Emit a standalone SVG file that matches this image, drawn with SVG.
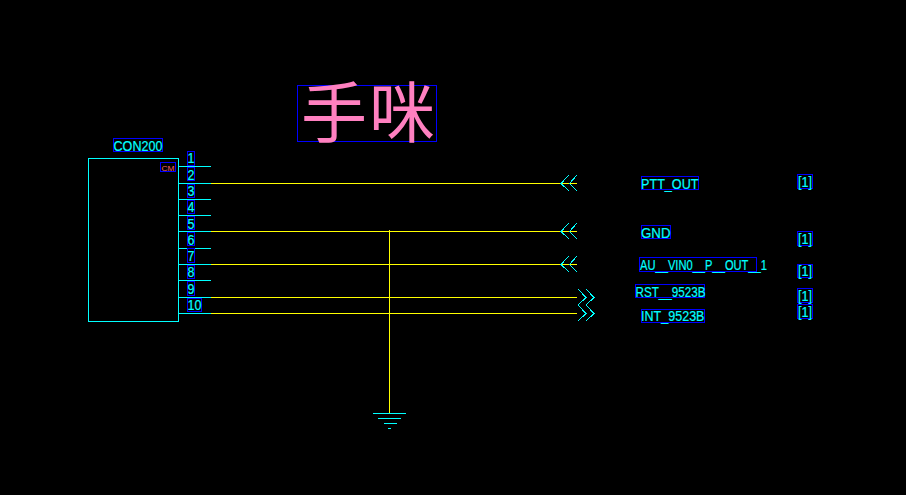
<svg xmlns="http://www.w3.org/2000/svg" width="906" height="495" viewBox="0 0 906 495">
<style>
.c{stroke:#00ffff;stroke-width:1;fill:none;shape-rendering:crispEdges}
.a{stroke:#00ffff;stroke-width:1;fill:none;shape-rendering:crispEdges}
.y{stroke:#ffff00;stroke-width:1;fill:none;shape-rendering:crispEdges}
.b{stroke:#0000ff;stroke-width:1;fill:none;shape-rendering:crispEdges}
text{font-family:"Liberation Sans",Arial,sans-serif;font-size:14px;fill:#00ffff;stroke:#00ffff;stroke-width:0.2}
</style>
<rect width="906" height="495" fill="#000000"/>
<g id="connectors">
<path class="y" d="M211 183.5H577M211 231.5H577M211 264.5H577M211 297.5H577M211 313.5H577M389.5 230V413"/>
<path class="c" d="M179 166.5H211M179 183.5H211M179 199.5H211M179 215.5H211M179 231.5H211M179 248.5H211M179 264.5H211M179 280.5H211M179 297.5H211M179 313.5H211"/>
</g>
<g id="con200">
<rect class="c" x="88.5" y="158.5" width="90" height="163"/>
<rect class="b" x="113.5" y="138.5" width="49" height="13"/>
<text x="113.5" y="150.5" textLength="49" lengthAdjust="spacingAndGlyphs">CON200</text>
<rect class="b" x="160.5" y="162.5" width="15" height="9"/>
<text x="161.5" y="170.5" textLength="13" lengthAdjust="spacingAndGlyphs" style="font-size:8px;fill:#ff6060;stroke:none">CM</text>
<rect class="b" x="187.5" y="151.5" width="7" height="14"/><text x="187.5" y="163" textLength="7" lengthAdjust="spacingAndGlyphs">1</text>
<rect class="b" x="187.5" y="167.5" width="7" height="13"/><text x="187.5" y="179.5" textLength="7" lengthAdjust="spacingAndGlyphs">2</text>
<rect class="b" x="187.5" y="184.5" width="7" height="13"/><text x="187.5" y="195.5" textLength="7" lengthAdjust="spacingAndGlyphs">3</text>
<rect class="b" x="187.5" y="200.5" width="7" height="13"/><text x="187.5" y="212" textLength="7" lengthAdjust="spacingAndGlyphs">4</text>
<rect class="b" x="187.5" y="216.5" width="7" height="13"/><text x="187.5" y="228.5" textLength="7" lengthAdjust="spacingAndGlyphs">5</text>
<rect class="b" x="187.5" y="232.5" width="7" height="13"/><text x="187.5" y="244.5" textLength="7" lengthAdjust="spacingAndGlyphs">6</text>
<rect class="b" x="187.5" y="248.5" width="7" height="14"/><text x="187.5" y="260.5" textLength="7" lengthAdjust="spacingAndGlyphs">7</text>
<rect class="b" x="187.5" y="265.5" width="7" height="13"/><text x="187.5" y="277" textLength="7" lengthAdjust="spacingAndGlyphs">8</text>
<rect class="b" x="187.5" y="281.5" width="7" height="14"/><text x="187.5" y="293.5" textLength="7" lengthAdjust="spacingAndGlyphs">9</text>
<rect class="b" x="187.5" y="298.5" width="14" height="13"/><text x="187.5" y="310" textLength="14" lengthAdjust="spacingAndGlyphs">10</text>
</g>
<g id="title">
<rect class="b" x="297.5" y="85.5" width="139" height="56"/>
<text x="301" y="137" textLength="134" lengthAdjust="spacing" style="font-family:'Noto Sans CJK SC',sans-serif;font-size:66px;fill:#ff80c0;stroke:none">手咪</text>
</g>
<g id="ground">
<path class="c" d="M373 413.5H406M378 418.5H401M384 423.5H397M388 428.5H391"/>
</g>
<g id="ptt-out">
<path class="a" d="M569 175L561 183.5L569 191M577 175L569.5 183.5L577 191"/>
<rect class="b" x="641.5" y="176.5" width="57" height="13"/>
<text x="641" y="188.5" textLength="57.5" lengthAdjust="spacingAndGlyphs">PTT_OUT</text>
<rect class="b" x="797.5" y="174.5" width="15" height="14"/>
<text x="798" y="186.5" textLength="14" lengthAdjust="spacingAndGlyphs">[1]</text>
</g>
<g id="gnd">
<path class="a" d="M569 223L561 231.5L569 239M577 223L569.5 231.5L577 239"/>
<rect class="b" x="641.5" y="225.5" width="29" height="13"/>
<text x="641" y="237.5" textLength="29.5" lengthAdjust="spacingAndGlyphs">GND</text>
<rect class="b" x="797.5" y="231.5" width="15" height="14"/>
<text x="798" y="243.5" textLength="14" lengthAdjust="spacingAndGlyphs">[1]</text>
</g>
<g id="au-vin0">
<path class="a" d="M569 256L561 264.5L569 272M577 256L569.5 264.5L577 272"/>
<rect class="b" x="639.5" y="257.5" width="117" height="14"/>
<text x="640" y="270" textLength="127" lengthAdjust="spacingAndGlyphs">AU__VIN0__P__OUT__1</text>
<rect class="b" x="797.5" y="264.5" width="15" height="13"/>
<text x="798" y="276" textLength="14" lengthAdjust="spacingAndGlyphs">[1]</text>
</g>
<g id="rst-9523b">
<path class="a" d="M578 289L586 297.5L578 305M586 289L594 297.5L586 305"/>
<rect class="b" x="635.5" y="284.5" width="69" height="13"/>
<text x="635.5" y="296.5" textLength="70" lengthAdjust="spacingAndGlyphs">RST__9523B</text>
<rect class="b" x="797.5" y="288.5" width="15" height="14"/>
<text x="798" y="300.5" textLength="14" lengthAdjust="spacingAndGlyphs">[1]</text>
</g>
<g id="int-9523b">
<path class="a" d="M578 305L586 313.5L578 321M586 305L594 313.5L586 321"/>
<rect class="b" x="641.5" y="309.5" width="63" height="13"/>
<text x="641" y="321" textLength="63.5" lengthAdjust="spacingAndGlyphs">INT_9523B</text>
<rect class="b" x="797.5" y="304.5" width="15" height="14"/>
<text x="798" y="316.5" textLength="14" lengthAdjust="spacingAndGlyphs">[1]</text>
</g>
</svg>
